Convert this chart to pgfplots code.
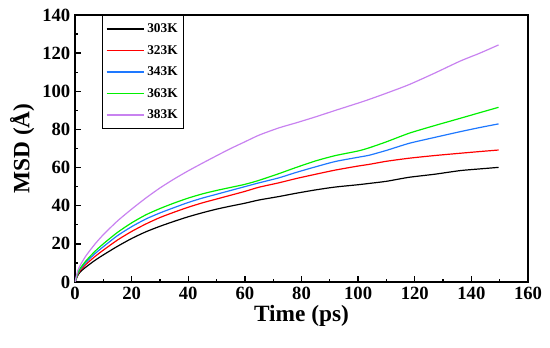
\documentclass[border=0pt]{standalone}
\usepackage{fontspec}
\setmainfont{Liberation Serif}
\usepackage{pgfplots}
\pgfplotsset{compat=1.18}
\definecolor{cblue}{RGB}{30,120,255}
\definecolor{cgreen}{RGB}{0,240,0}
\definecolor{cpurple}{RGB}{200,130,240}
\begin{document}
\begin{tikzpicture}
\useasboundingbox (-56.25pt,-49.5pt) rectangle (356.25pt,211.5pt);
\begin{axis}[
  at={(0pt,0pt)}, anchor=south west,
  scale only axis, width=339.75pt, height=200.25pt,
  xmin=0, xmax=160, ymin=0, ymax=140,
  xtick={0,20,...,160}, ytick={0,20,...,140},
  minor x tick num=1, minor y tick num=1,
  tick pos=left, tick align=inside,
  major tick length=4.5pt, minor tick length=2.5pt,
  every tick/.style={black, line width=1pt},
  axis line style={line width=1.1pt},
  /pgf/number format/assume math mode=true,
  tick label style={font=\fontsize{14}{14}\selectfont\bfseries},
  xlabel={\fontsize{17.5}{17.5}\selectfont\bfseries Time (ps)},
  ylabel={\fontsize{17.5}{17.5}\selectfont\bfseries MSD (Å)},
  xlabel style={yshift=2pt},
  ylabel style={yshift=-1pt},
  legend style={at={(0.0596,1)}, anchor=north west, draw=black, line width=1pt,
    font=\fontsize{10}{10}\selectfont\bfseries, row sep=4pt, inner xsep=2.5pt, inner ysep=4pt},
  legend cell align=left,
  legend image code/.code={\draw[#1, line width=1pt] (0pt,0pt) -- (28pt,0pt);},
  every axis plot/.append style={line width=0.9pt, smooth, tension=0.4},
]
\addplot[black] coordinates {(0,0)(1,3.5)(2,5.5)(4,8)(7,11.3)(10,14.2)(15,18.7)(20,22.8)(25,26.3)(30,29.2)(35,31.8)(40,34.2)(45,36.3)(50,38.2)(55,39.8)(60,41.3)(65,43)(72,44.8)(78,46.5)(85,48.3)(92,49.8)(100,51)(104,51.7)(110,52.8)(118,54.9)(127,56.5)(136,58.4)(143,59.3)(149.6,60.1)};
\addlegendentry{303K}
\addplot[red] coordinates {(0,0)(1,4)(2,6.3)(4,9.4)(7,13.3)(10,16.7)(15,22)(20,26.5)(25,30.4)(30,33.8)(35,36.6)(40,39.2)(45,41.5)(50,43.5)(55,45.5)(60,47.5)(65,49.7)(72,52)(78,54.2)(85,56.5)(92,58.7)(100,60.8)(104,61.7)(110,63.3)(118,64.9)(127,66.3)(136,67.5)(143,68.4)(149.6,69.2)};
\addlegendentry{323K}
\addplot[cblue] coordinates {(0,0)(1,4.5)(2,7)(4,10.5)(7,14.8)(10,18.5)(15,24.3)(20,29)(25,33)(30,36.2)(35,39)(40,41.7)(45,44)(50,46)(55,48)(60,50)(65,52)(72,54.6)(78,57.4)(85,60.4)(92,63.2)(100,65.4)(104,66.5)(110,69)(118,72.7)(127,75.8)(136,78.8)(143,81)(149.6,82.9)};
\addlegendentry{343K}
\addplot[cgreen] coordinates {(0,0)(1,4.8)(2,7.5)(4,11.3)(7,16)(10,20)(15,26)(20,31)(25,35.2)(30,38.5)(35,41.4)(40,44)(45,46.2)(50,48)(55,49.6)(60,51.2)(65,53.3)(72,56.8)(78,60)(85,63.5)(92,66.3)(100,68.7)(104,70.4)(110,73.5)(118,78)(127,82)(136,85.8)(143,88.8)(149.6,91.6)};
\addlegendentry{363K}
\addplot[cpurple] coordinates {(0,0)(1,6)(2,9.2)(4,14)(7,19.8)(10,24.8)(15,32)(20,38.2)(25,44)(30,49.3)(35,54)(40,58.3)(45,62.3)(50,66.2)(55,70)(60,73.5)(65,77)(72,80.8)(78,83.4)(85,86.6)(92,90)(100,93.8)(104,95.8)(110,99)(118,103.5)(127,109.5)(136,115.8)(143,120)(149.6,124.3)};
\addlegendentry{383K}
\end{axis}
\end{tikzpicture}
\end{document}
